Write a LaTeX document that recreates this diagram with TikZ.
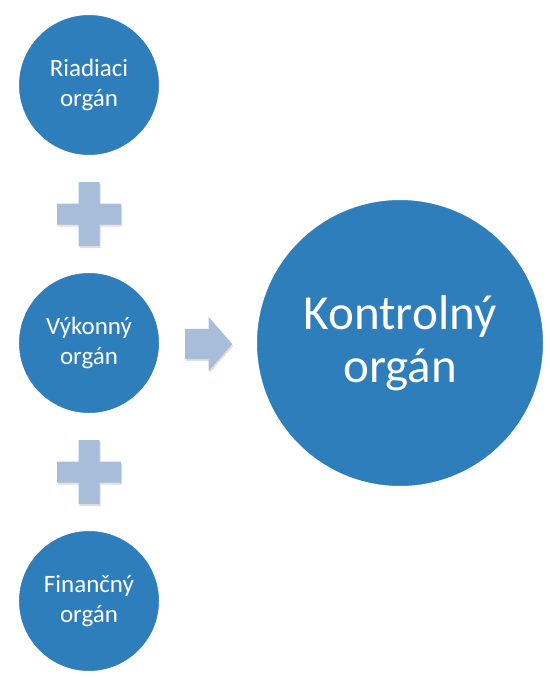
\documentclass[tikz,border=0pt]{standalone}
\usepackage{fontspec}
\setmainfont{Carlito}
\usetikzlibrary{calc,shapes.arrows,shadows}
\definecolor{organblue}{RGB}{47,126,188}
\definecolor{pluscol}{RGB}{167,189,218}
\newcommand{\plusmark}[1]{%
  \fill[plusfill, shift={#1}] (-10.5,-32) -- (10.5,-32) -- (10.5,-10.5)
    -- (32,-10.5) -- (32,10.5) -- (10.5,10.5) -- (10.5,32) -- (-10.5,32)
    -- (-10.5,10.5) -- (-32,10.5) -- (-32,-10.5) -- (-10.5,-10.5) -- cycle;}

\begin{document}
\begin{tikzpicture}[x=1pt,y=-1pt,
  organ/.style={circle, draw=white, line width=7pt, fill=organblue,
    minimum size=147pt, text=white, align=center, inner sep=0pt,
    font=\fontsize{25}{30}\selectfont,
    drop shadow={opacity=0.25, shadow xshift=1pt, shadow yshift=-2pt}},
  bigorgan/.style={organ, line width=8pt, minimum size=294pt,
    font=\fontsize{49}{53}\selectfont},
  plusfill/.style={fill=pluscol,
    drop shadow={opacity=0.25, shadow xshift=1pt, shadow yshift=-2pt}},
  arrowbox/.style={single arrow, fill=pluscol, inner xsep=0pt, inner ysep=15pt,
    minimum height=47pt, single arrow head extend=12pt,
    single arrow tip angle=98,
    drop shadow={opacity=0.25, shadow xshift=1pt, shadow yshift=-2pt}}]
\useasboundingbox (0,0) rectangle (549,679);
\node[organ] (riadiaci) at (89,85) {Riadiaci\\orgán};
\node[organ] (vykonny) at (89,343) {Výkonný\\orgán};
\node[organ] (financny) at (89,601) {Finančný\\orgán};
\node[bigorgan] (kontrolny) at (400,343) {Kontrolný\\orgán};
\plusmark{($(riadiaci)!0.5!(vykonny)$)}
\plusmark{($(vykonny)!0.5!(financny)$)}
\node[arrowbox, anchor=tail] (sipka) at ($(vykonny.east)+(19,1)$) {};
\end{tikzpicture}
\end{document}
